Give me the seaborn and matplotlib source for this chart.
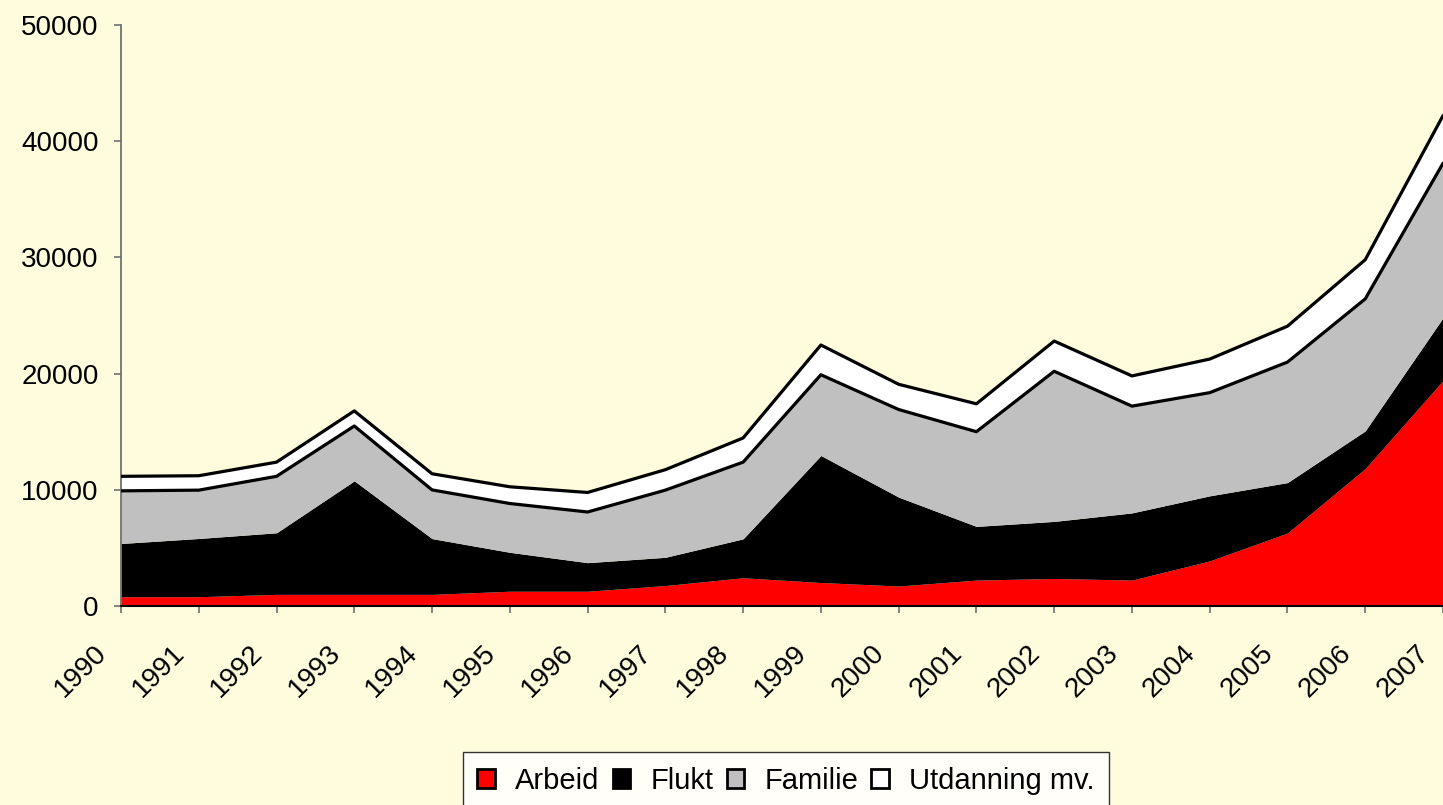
import matplotlib
matplotlib.use("Agg")
import matplotlib.pyplot as plt
from matplotlib.patches import Patch
from matplotlib.transforms import ScaledTranslation
import pandas as pd
import seaborn as sns

years = list(range(1990, 2008))
arbeid = [800, 800, 1000, 1000, 1000, 1270, 1270, 1760, 2430, 2020,
          1720, 2230, 2370, 2230, 3880, 6280, 11830, 19400]
flukt = [4580, 5010, 5300, 9770, 4800, 3350, 2460, 2430, 3350, 10930,
         7650, 4620, 4910, 5780, 5600, 4340, 3240, 5400]
familie = [4530, 4160, 4860, 4720, 4190, 4200, 4360, 5780, 6600, 6950,
           7540, 8150, 12920, 9190, 8880, 10370, 11360, 13300]
utdanning = [1250, 1240, 1220, 1300, 1390, 1440, 1680, 1760, 2080, 2560,
             2170, 2400, 2600, 2600, 2890, 3090, 3370, 4100]

names = ["Arbeid", "Flukt", "Familie", "Utdanning mv."]
colors = ["#FF0000", "#000000", "#C0C0C0", "#FFFFFF"]
bg = "#FFFCDE"

df = pd.DataFrame({"year": years, "Arbeid": arbeid, "Flukt": flukt,
                   "Familie": familie, "Utdanning mv.": utdanning})

sns.set_style("ticks", {"axes.facecolor": bg, "figure.facecolor": bg,
                        "text.color": "black", "xtick.color": "black",
                        "ytick.color": "black"})
plt.rcParams["font.family"] = ["Liberation Sans", "DejaVu Sans"]

fig = plt.figure(figsize=(14.43, 8.05), dpi=100)
ax = fig.add_axes([121 / 1443, 1 - 606 / 805, 1 - 121 / 1443, (606 - 25) / 805])

bottom = [0] * len(years)
tops = []
for name, col in zip(names, colors):
    top = [b + v for b, v in zip(bottom, df[name])]
    ax.fill_between(df["year"], bottom, top, color=col, lw=0, zorder=2)
    tops.append(top)
    bottom = top

# black outlines along the top of the two upper layers
for top in tops[2:]:
    sns.lineplot(x=df["year"], y=top, color="black", lw=2.3, ax=ax, zorder=3)

ax.set_xlim(1990, 2007)
ax.set_ylim(0, 50000)
ax.set_yticks(range(0, 50001, 10000))
ax.set_xticks(years)
ax.set_xticklabels([str(y) for y in years], rotation=45, ha="right",
                   va="center", rotation_mode="anchor")
ax.tick_params(axis="both", labelsize=20, length=5, width=1.2,
               color="#707070", labelcolor="black", direction="out")
ax.tick_params(axis="y", pad=11)
ax.tick_params(axis="x", pad=26)
shift = ScaledTranslation(-18 / 100, 0, fig.dpi_scale_trans)
for lab in ax.get_xticklabels():
    lab.set_transform(lab.get_transform() + shift)
ax.set_xlabel("")
ax.set_ylabel("")
for side in ["top", "right"]:
    ax.spines[side].set_visible(False)
ax.spines["left"].set_color("#707070")
ax.spines["left"].set_linewidth(1.3)
ax.spines["bottom"].set_color("black")
ax.spines["bottom"].set_linewidth(1.5)
ax.spines["bottom"].set_zorder(4)

handles = [Patch(facecolor=c, edgecolor="black", lw=2, label=n)
           for n, c in zip(names, colors)]
leg = fig.legend(handles=handles, loc="upper center",
                 bbox_to_anchor=(786 / 1443, 1 - 752 / 805), ncol=4, fontsize=21,
                 frameon=True, fancybox=False, edgecolor="black",
                 handlelength=0.6, handleheight=0.6, handletextpad=0.7,
                 columnspacing=0.45, borderpad=0.5, borderaxespad=0)
leg.get_frame().set_facecolor("white")
leg.get_frame().set_linewidth(1.0)

fig.savefig("out.png", dpi=100, facecolor=bg)
